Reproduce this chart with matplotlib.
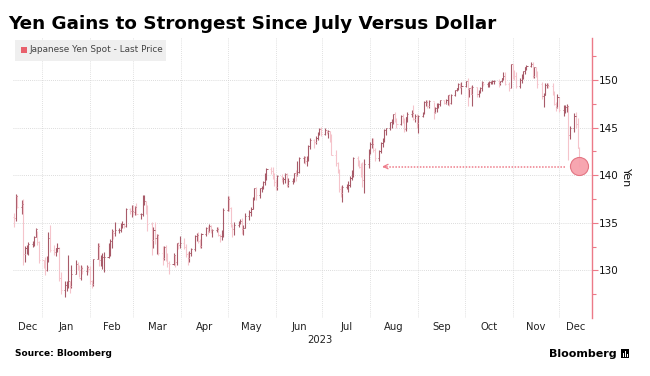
import matplotlib
matplotlib.use("Agg")
import matplotlib.pyplot as plt
import matplotlib.dates as mdates
from matplotlib.patches import Rectangle
import pandas as pd
import numpy as np

# ---------------- data (USD/JPY daily, Dec 14 2022 - Dec 14 2023) -------------
start_date = "2022-12-14"
end_date = "2023-12-14"
first_open = 135.6

closes = [
    # Dec 2022
    135.5, 137.8, 136.7, 137.0, 131.7, 132.4, 132.4, 132.8, 132.9, 133.5, 134.3, 133.0, 131.1,
    # Jan
    130.9, 130.0, 131.0, 133.4, 132.1, 131.9, 132.3, 132.4, 129.2, 127.9, 128.5, 128.6, 128.9,
    128.4, 129.6, 130.7, 130.2, 129.2, 130.3, 129.9, 130.4, 130.1,
    # Feb
    128.9, 128.6, 131.2, 132.6, 131.1, 131.4, 131.4, 131.4, 132.4, 133.1, 134.1, 133.9, 134.2,
    134.2, 134.9, 134.9, 134.7, 136.4, 136.2, 136.2,
    # Mar
    136.1, 136.7, 135.9, 135.9, 137.2, 137.3, 136.1, 134.9, 133.2, 134.2, 133.4, 133.7, 131.8,
    131.3, 132.5, 131.5, 130.8, 130.7, 131.6, 130.9, 132.9, 132.7, 132.9,
    # Apr
    132.5, 131.7, 131.3, 131.8, 132.2, 133.6, 133.7, 133.1, 132.6, 133.8, 134.5, 134.1, 134.7,
    134.2, 134.2, 134.3, 133.7, 133.6, 133.9, 136.3,
    # May
    137.5, 136.6, 134.7, 134.3, 134.8, 135.1, 135.2, 134.3, 134.5, 135.7, 136.1, 136.4, 137.6,
    138.7, 137.9, 138.6, 138.6, 139.3, 140.1, 140.6, 140.4, 139.8, 139.3,
    # Jun
    138.8, 139.9, 139.6, 139.6, 140.1, 139.0, 139.4, 139.6, 140.2, 140.0, 140.3, 141.8, 141.9,
    141.5, 141.8, 143.1, 143.7, 143.5, 143.9, 144.4, 144.8, 144.3,
    # Jul
    144.7, 144.5, 144.6, 144.1, 142.1, 141.3, 140.4, 138.5, 138.1, 138.8, 138.8, 139.0, 139.7,
    140.1, 141.8, 141.5, 140.9, 140.4, 139.5, 141.2, 142.3,
    # Aug
    143.3, 143.3, 142.6, 141.8, 142.5, 143.4, 143.8, 144.7, 144.9, 145.6, 145.6, 146.4, 145.8,
    145.4, 146.2, 145.9, 144.8, 146.1, 146.4, 146.5, 145.9, 146.2, 145.5,
    # Sep
    146.2, 146.5, 147.7, 147.7, 147.3, 147.8, 146.6, 147.1, 147.4, 147.5, 147.9, 147.6, 147.9,
    148.4, 147.6, 148.4, 148.9, 149.1, 149.6, 149.3, 149.4,
    # Oct
    149.9, 149.0, 149.1, 148.5, 149.3, 148.5, 148.7, 149.1, 149.8, 149.6, 149.6, 149.8, 149.8,
    149.9, 149.9, 149.7, 149.9, 150.2, 150.4, 149.6, 149.1, 151.7,
    # Nov
    150.9, 150.4, 149.4, 150.0, 150.4, 150.9, 151.4, 151.5, 151.7, 150.4, 151.4, 150.7, 149.6,
    148.3, 148.4, 149.5, 149.5, 149.4, 148.7, 147.5, 147.2, 148.2,
    # Dec 2023
    146.8, 147.2, 147.2, 147.3, 144.2, 144.9, 146.2, 145.4, 142.9, 141.1,
]

highs = [
    136.0, 138.0, 137.9, 137.4, 137.5, 132.6, 132.7, 133.0, 133.1, 133.6, 134.4, 134.1, 133.1,
    131.1, 131.4, 131.5, 134.0, 134.8, 132.7, 132.4, 132.9, 132.5, 129.8, 128.9, 128.9, 131.6,
    128.9, 130.6, 131.1, 130.9, 130.6, 130.6, 130.5, 130.6, 130.5,
    130.5, 129.0, 131.2, 132.9, 132.9, 131.6, 131.8, 131.9, 132.9, 133.3, 134.3, 134.2, 135.1,
    134.4, 135.0, 135.2, 135.0, 136.5, 136.5, 136.9,
    136.9, 136.8, 137.1, 136.0, 137.9, 137.9, 137.3, 136.9, 135.1, 134.6, 135.1, 133.8, 133.8,
    132.6, 132.6, 132.7, 131.8, 131.0, 131.8, 131.6, 132.9, 133.0, 133.6,
    133.4, 132.8, 131.9, 132.0, 132.4, 133.7, 133.9, 134.0, 133.3, 133.9, 134.6, 134.7, 134.9,
    134.8, 134.3, 134.6, 134.6, 133.8, 134.2, 136.6,
    137.8, 137.8, 136.7, 134.9, 135.1, 135.2, 135.4, 135.5, 134.8, 136.0, 136.3, 136.7, 137.7,
    138.7, 138.8, 138.6, 138.9, 139.4, 140.2, 140.7, 140.9, 140.9, 140.2,
    139.6, 140.0, 140.1, 139.8, 140.2, 140.2, 139.7, 139.7, 140.2, 140.5, 141.5, 141.9, 142.0,
    142.0, 142.0, 143.2, 143.9, 143.8, 144.1, 144.5, 144.9, 145.1,
    144.9, 144.7, 144.7, 144.6, 144.3, 142.6, 141.4, 140.6, 138.9, 139.0, 139.1, 139.4, 139.9,
    140.5, 141.9, 142.0, 141.6, 141.3, 141.4, 141.7, 142.7,
    143.5, 143.9, 143.9, 142.8, 142.6, 143.5, 143.9, 144.8, 145.0, 145.6, 145.9, 146.4, 146.6,
    146.0, 146.3, 146.4, 146.0, 146.1, 146.6, 146.8, 147.4, 146.4, 146.4,
    146.3, 146.6, 147.8, 147.9, 147.9, 147.9, 147.7, 147.2, 147.6, 147.6, 147.9, 147.9, 148.0,
    148.4, 148.5, 148.5, 148.9, 149.2, 149.7, 149.7, 149.8,
    149.9, 150.2, 149.2, 149.4, 149.5, 149.3, 148.9, 149.3, 149.9, 149.8, 149.8, 149.9, 149.9,
    150.0, 150.0, 150.1, 149.9, 150.2, 150.8, 150.8, 149.8, 151.7,
    151.7, 151.0, 150.8, 150.2, 150.6, 150.9, 151.4, 151.6, 151.9, 151.9, 151.4, 151.4, 150.9,
    149.8, 148.6, 149.7, 149.7, 149.7, 149.7, 148.8, 147.7, 148.5,
    148.2, 147.4, 147.4, 147.5, 147.3, 145.2, 146.5, 146.6, 146.0, 143.0,
]

lows = [
    134.6, 135.2, 136.5, 135.9, 130.6, 130.9, 131.7, 131.6, 132.5, 132.6, 133.5, 132.7, 130.8,
    130.2, 129.5, 129.9, 130.9, 131.9, 131.6, 131.5, 131.9, 128.9, 127.5, 127.2, 127.8, 128.2,
    127.6, 128.2, 129.6, 130.0, 129.3, 129.0, 129.6, 129.5, 129.8,
    128.6, 128.1, 128.4, 131.2, 130.5, 130.5, 130.1, 129.8, 131.3, 131.5, 132.3, 133.3, 133.6,
    133.9, 134.0, 134.4, 134.5, 134.6, 135.9, 135.6,
    135.8, 135.8, 135.8, 135.4, 135.7, 136.9, 135.9, 134.1, 131.6, 132.3, 132.8, 131.7, 131.6,
    130.6, 131.1, 131.0, 130.4, 129.6, 130.6, 130.4, 130.6, 132.2, 132.3,
    132.2, 131.4, 130.6, 130.9, 131.5, 132.0, 133.1, 132.9, 132.3, 132.4, 133.6, 133.8, 134.0,
    133.9, 133.5, 134.0, 133.6, 133.0, 133.2, 133.5,
    136.2, 136.2, 134.6, 133.5, 133.7, 134.6, 134.9, 133.8, 133.7, 134.5, 135.3, 135.7, 136.4,
    137.4, 137.4, 137.6, 138.2, 138.5, 139.0, 139.5, 140.1, 139.6, 138.9,
    138.4, 138.4, 139.3, 139.1, 139.2, 138.8, 138.8, 139.1, 139.3, 139.4, 139.9, 140.2, 141.3,
    141.2, 141.0, 141.5, 142.7, 142.9, 143.3, 143.7, 144.2, 144.1,
    144.2, 144.3, 143.9, 143.5, 142.1, 141.0, 140.2, 138.2, 137.7, 137.2, 138.5, 138.2, 138.8,
    139.5, 139.8, 141.0, 140.7, 139.8, 138.8, 138.1, 140.7,
    142.2, 142.9, 142.4, 141.5, 141.5, 142.3, 143.0, 143.5, 144.2, 144.7, 145.0, 145.4, 145.6,
    144.9, 145.3, 145.5, 144.5, 144.6, 145.6, 146.1, 145.8, 145.6, 145.0,
    144.4, 146.1, 146.4, 147.3, 147.0, 147.1, 145.9, 146.5, 146.6, 147.0, 147.3, 147.5, 147.5,
    147.4, 147.3, 147.5, 148.3, 148.8, 148.9, 149.2, 148.5,
    149.3, 147.3, 148.2, 148.5, 147.3, 148.2, 148.2, 148.6, 148.8, 149.4, 149.3, 149.3, 149.6,
    149.6, 149.6, 149.3, 149.5, 149.8, 150.0, 149.5, 148.8, 149.1,
    150.1, 150.0, 149.2, 149.2, 149.7, 150.1, 150.6, 151.0, 151.4, 150.2, 150.2, 150.3, 149.2,
    148.0, 147.2, 148.4, 149.1, 149.2, 148.4, 147.4, 146.7, 147.1,
    146.6, 146.2, 146.5, 146.6, 141.6, 143.8, 144.5, 145.0, 142.8, 140.9,
]

last_price = 141.0
arrow_from = "2023-12-05"
arrow_to = "2023-08-07"

month_labels = ["Dec", "Jan", "Feb", "Mar", "Apr", "May", "Jun", "Jul",
                "Aug", "Sep", "Oct", "Nov", "Dec"]
year_label = "2023"
y_ticks = [130, 135, 140, 145, 150]

# ---------------- figure ------------------------------------------------------
W, H = 650, 376
fig = plt.figure(figsize=(W / 100, H / 100), dpi=100)
fig.patch.set_facecolor("white")

ax_left, ax_right, ax_top, ax_bottom = 13, 592, 38, 318
ax = fig.add_axes([ax_left / W, 1 - ax_bottom / H,
                   (ax_right - ax_left) / W, (ax_bottom - ax_top) / H])

dates = pd.bdate_range(start_date, end_date)
assert len(dates) == len(closes) == len(highs) == len(lows)
x = mdates.date2num(dates.to_pydatetime())
c = np.array(closes)
hi = np.array(highs)
lo = np.array(lows)
op = np.concatenate([[first_open], c[:-1]])

dark = "#a85b69"
pale = "#f5c4cb"
cols = [dark if cc >= oo else pale for cc, oo in zip(c, op)]

ax.vlines(x, lo, hi, colors=cols, linewidth=0.8, zorder=3)
ax.hlines(op, x - 0.7, x, colors=cols, linewidth=0.7, zorder=3)
ax.hlines(c, x, x + 0.7, colors=cols, linewidth=0.7, zorder=3)

# limits
jan1 = mdates.date2num(pd.Timestamp("2023-01-01"))
px_per_day = (559 - 42) / 334.0
xmin = jan1 + (ax_left - 42) / px_per_day
xmax = jan1 + (ax_right - 42) / px_per_day
ax.set_xlim(xmin, xmax)
ax.set_ylim(125, 154.4)

# grid
month_starts = pd.date_range("2023-01-01", "2023-12-01", freq="MS")
ms = mdates.date2num(month_starts.to_pydatetime())
for m in ms:
    ax.axvline(m, color="#d6d6d6", lw=0.6, ls=(0, (1, 1.5)), zorder=1)
for yv in y_ticks:
    ax.axhline(yv, color="#d0d0d0", lw=0.6, ls=(0, (1, 1.5)), zorder=1)

# spines
for s in ["left", "top", "bottom"]:
    ax.spines[s].set_visible(False)
axis_red = "#ec7a88"
ax.spines["right"].set_color(axis_red)
ax.spines["right"].set_linewidth(1.0)
ax.yaxis.tick_right()
ax.set_yticks(y_ticks)
ax.set_yticks(np.arange(127.5, 154, 5), minor=True)
ax.tick_params(axis="y", which="major", colors=axis_red, length=4, width=0.8,
               labelcolor="#111111", labelsize=7.5, pad=1)
ax.tick_params(axis="y", which="minor", colors=axis_red, length=3, width=0.8)
ax.yaxis.set_label_position("right")
ax.set_ylabel("Yen", rotation=270, fontsize=8, color="#111111", labelpad=9)

# month labels centred in each visible month
bounds = np.concatenate([[xmin], ms, [xmax]])
centers = (bounds[:-1] + bounds[1:]) / 2
ax.set_xticks(centers)
ax.set_xticklabels(month_labels)
ax.tick_params(axis="x", length=0, labelsize=7.2, labelcolor="#222222", pad=3)
fig.text(320 / W, 1 - 340 / H, year_label, ha="center", va="center",
         fontsize=7.2, color="#222222")

# last price marker and arrow
x_last = x[-1]
ax.plot([x_last], [last_price], "o", ms=13, mfc="#f7a1ac", mec="#e2717f",
        mew=0.8, alpha=0.95, zorder=5)
xa0 = mdates.date2num(pd.Timestamp(arrow_from))
xa1 = mdates.date2num(pd.Timestamp(arrow_to))
ax.plot([xa0, xa1 + 2], [last_price - 0.1] * 2, color="#ee7d8b", lw=1.1,
        ls=(0, (1, 1)), zorder=4)
ax.annotate("", xy=(xa1, last_price - 0.1), xytext=(xa1 + 6, last_price - 0.1),
            arrowprops=dict(arrowstyle="->", color="#ee7d8b", lw=0.9,
                            mutation_scale=8), zorder=4)

# title
fig.text(8 / W, 1 - 24 / H, "Yen Gains to Strongest Since July Versus Dollar",
         fontsize=13.2, fontweight="bold", color="black", va="center", ha="left")

# legend box
fig.patches.append(Rectangle((15 / W, 1 - 61 / H), 151 / W, 21 / H,
                             transform=fig.transFigure, facecolor="#efefef",
                             edgecolor="none", zorder=10))
fig.patches.append(Rectangle((21 / W, 1 - 53 / H), 6 / W, 6 / H,
                             transform=fig.transFigure, facecolor="#e8606c",
                             edgecolor="none", zorder=11))
fig.text(29 / W, 1 - 50 / H, "Japanese Yen Spot - Last Price", fontsize=6.4,
         color="#444444", va="center", ha="left", zorder=12)

# footer
fig.text(15 / W, 1 - 354 / H, "Source: Bloomberg", fontsize=6.5,
         fontweight="bold", color="black", va="center", ha="left")
fig.text(617 / W, 1 - 354 / H, "Bloomberg", fontsize=8, fontweight="bold",
         color="black", va="center", ha="right")
fig.patches.append(Rectangle((621 / W, 1 - 358 / H), 8 / W, 9 / H,
                             transform=fig.transFigure, facecolor="black",
                             edgecolor="none"))
for dx, hh in [(1.5, 4), (3.5, 6), (5.5, 3)]:
    fig.patches.append(Rectangle(((621 + dx) / W, 1 - 357 / H), 1 / W, hh / H,
                                 transform=fig.transFigure, facecolor="white",
                                 edgecolor="none"))

fig.savefig("out.png", dpi=100)
